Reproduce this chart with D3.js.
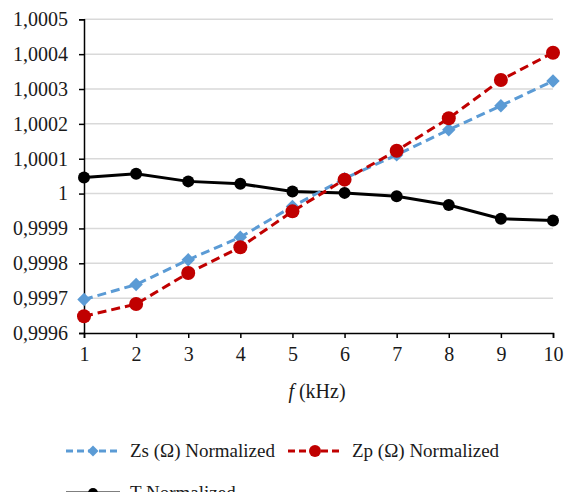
<!DOCTYPE html>
<html><head><meta charset="utf-8">
<script src="https://cdn.jsdelivr.net/npm/d3@7"></script>
<style>body{margin:0;background:#fff;} svg{display:block;}</style>
</head><body>
<svg id="c" width="564" height="492"></svg>
<script>
const freqs = [1,2,3,4,5,6,7,8,9,10];
const zsValues = [0.999696, 0.999739, 0.999810, 0.999875, 0.999963, 1.000043, 1.000111, 1.000183, 1.000252, 1.000323];
const zpValues = [0.999648, 0.999683, 0.999772, 0.999846, 0.999949, 1.000040, 1.000123, 1.000216, 1.000326, 1.000404];
const tValues  = [1.000046, 1.000057, 1.000035, 1.000028, 1.000006, 1.000002, 0.999992, 0.999967, 0.999928, 0.999923];
const yTicks = [0.9996,0.9997,0.9998,0.9999,1,1.0001,1.0002,1.0003,1.0004,1.0005];
const yTickLabels = ["0,9996","0,9997","0,9998","0,9999","1","1,0001","1,0002","1,0003","1,0004","1,0005"];
const seriesNames = ["Zs (Ω) Normalized","Zp (Ω) Normalized","T Normalized"];

const FONT = '"Liberation Serif"';
const TXT = "#1a1a1a";
const svg = d3.select("#c");
const x = d3.scaleLinear().domain([1,10]).range([84,553]);
const y = d3.scaleLinear().domain([0.9996,1.0005]).range([333,19.3]);

function serif(sel, size){
  return sel.attr("font-family","Liberation Serif").attr("font-size",size)
    .style("font-family",FONT).style("font-size",size+"px").attr("fill",TXT);
}

// gridlines
svg.append("g").selectAll("line").data(yTicks.slice(1)).join("line")
  .attr("x1",84).attr("x2",553).attr("y1",d=>y(d)).attr("y2",d=>y(d))
  .attr("stroke","#d9d9d9").attr("stroke-width",1.5);

// axes
const yAxis = svg.append("g").attr("transform","translate(84,0)")
  .call(d3.axisLeft(y).tickValues(yTicks).tickFormat((d,i)=>yTickLabels[i]).tickSize(5).tickPadding(11));
const xAxis = svg.append("g").attr("transform","translate(0,333)")
  .call(d3.axisBottom(x).tickValues(freqs).tickFormat(d3.format("d")).tickSize(5).tickPadding(9));
[yAxis,xAxis].forEach(g=>{
  g.attr("font-family","Liberation Serif").attr("font-size",20);
  g.select(".domain").attr("stroke","#000").attr("stroke-width",1.5);
  g.selectAll(".tick line").attr("stroke","#000").attr("stroke-width",1.5);
  serif(g.selectAll(".tick text"), 20);
});

// x axis title
const t = serif(svg.append("text").attr("x",317).attr("y",398).attr("text-anchor","middle"), 20);
t.append("tspan").style("font-style","italic").text("f");
t.append("tspan").text(" (kHz)");

const line = d3.line().x((d,i)=>x(freqs[i])).y(d=>y(d));

// T series
svg.append("path").datum(tValues).attr("d",line).attr("fill","none").attr("stroke","#000").attr("stroke-width",3);
svg.append("g").selectAll("circle").data(tValues).join("circle")
  .attr("cx",(d,i)=>x(freqs[i])).attr("cy",d=>y(d)).attr("r",6).attr("fill","#000");

// Zs series
svg.append("path").datum(zsValues).attr("d",line).attr("fill","none").attr("stroke","#5B9BD5").attr("stroke-width",3).attr("stroke-dasharray","9,5");
svg.append("g").selectAll("path").data(zsValues).join("path")
  .attr("d",d3.symbol().type(d3.symbolSquare).size(90))
  .attr("transform",(d,i)=>`translate(${x(freqs[i])},${y(d)}) rotate(45)`)
  .attr("fill","#5B9BD5");

// Zp series
svg.append("path").datum(zpValues).attr("d",line).attr("fill","none").attr("stroke","#C00000").attr("stroke-width",3).attr("stroke-dasharray","9,5");
svg.append("g").selectAll("circle").data(zpValues).join("circle")
  .attr("cx",(d,i)=>x(freqs[i])).attr("cy",d=>y(d)).attr("r",7).attr("fill","#C00000");

// legend
function legendItem(x0, yy, color, dashed, marker, label){
  const g = svg.append("g");
  g.append("line").attr("x1",x0).attr("x2",x0+54).attr("y1",yy).attr("y2",yy)
    .attr("stroke",color).attr("stroke-width",3).attr("stroke-dasharray",dashed?"7,4":null);
  if(marker==="diamond") g.append("path").attr("d",d3.symbol().type(d3.symbolSquare).size(60)).attr("transform",`translate(${x0+27},${yy}) rotate(45)`).attr("fill",color);
  else g.append("circle").attr("cx",x0+27).attr("cy",yy).attr("r",marker==="big"?6:5).attr("fill",color);
  serif(g.append("text").attr("x",x0+64).attr("y",yy+6), 19).text(label);
}
legendItem(66,451,"#5B9BD5",true,"diamond",seriesNames[0]);
legendItem(288,451,"#C00000",true,"big",seriesNames[1]);
legendItem(66,493,"#000",false,"small",seriesNames[2]);
</script>
</body></html>
